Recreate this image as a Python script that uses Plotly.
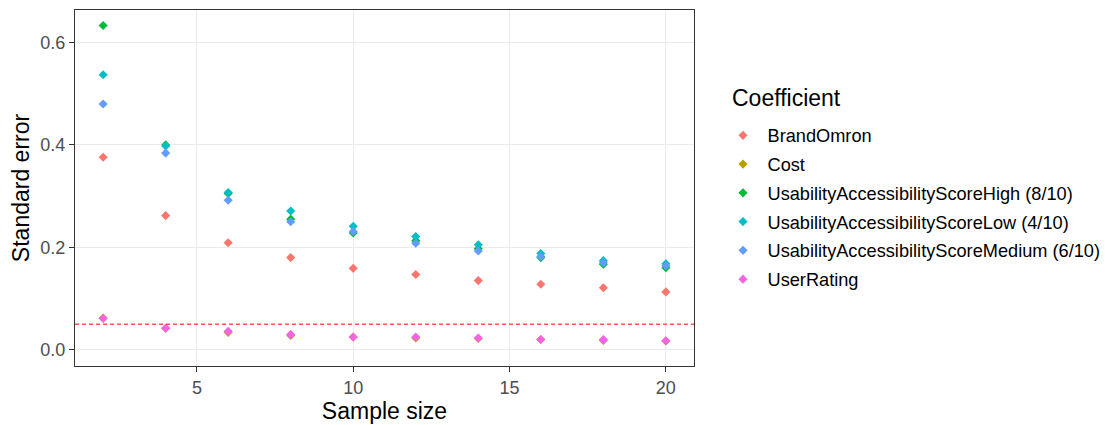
import plotly.graph_objects as go

sample_size = [2, 4, 6, 8, 10, 12, 14, 16, 18, 20]
coef_names = ["BrandOmron", "Cost", "UsabilityAccessibilityScoreHigh (8/10)",
              "UsabilityAccessibilityScoreLow (4/10)", "UsabilityAccessibilityScoreMedium (6/10)",
              "UserRating"]
se_brand = [0.376, 0.262, 0.209, 0.180, 0.159, 0.147, 0.135, 0.128, 0.121, 0.113]
se_cost = [0.062, 0.042, 0.034, 0.028, 0.025, 0.023, 0.022, 0.020, 0.018, 0.017]
se_high = [0.633, 0.400, 0.305, 0.255, 0.228, 0.213, 0.197, 0.180, 0.167, 0.160]
se_low = [0.537, 0.398, 0.307, 0.271, 0.241, 0.221, 0.205, 0.188, 0.174, 0.168]
se_medium = [0.480, 0.384, 0.292, 0.250, 0.231, 0.208, 0.193, 0.182, 0.170, 0.164]
se_user = [0.061, 0.042, 0.036, 0.030, 0.025, 0.025, 0.023, 0.020, 0.020, 0.0175]
colors = ["#F8766D", "#B79F00", "#00BA38", "#00BFC4", "#619CFF", "#F564E3"]
threshold = 0.05

series = [se_brand, se_cost, se_high, se_low, se_medium, se_user]
FONT = "Liberation Sans, Arial, sans-serif"

# figure is drawn inside the page body (8px default margin), so size it to fit the window
W, H = 1103, 417

fig = go.Figure()
for name, vals, col in zip(coef_names, series, colors):
    fig.add_trace(go.Scatter(
        x=sample_size, y=vals, mode="markers", name=name, legendgroup=name,
        marker=dict(symbol="diamond", size=7, color=col, line=dict(width=0)),
    ))

fig.add_hline(y=threshold, line=dict(color="#FF0000", width=1, dash="4px,3px"))

axis_common = dict(
    showgrid=True, gridcolor="#EBEBEB", gridwidth=1, zeroline=False,
    showline=True, linecolor="#333333", linewidth=1, mirror=True,
    ticks="outside", ticklen=5, tickcolor="#333333",
    tickfont=dict(family=FONT, size=18, color="#4D4D4D"),
    automargin=True,
)
fig.update_xaxes(range=[1.1, 20.9], tickvals=[5, 10, 15, 20],
                 title=dict(text="Sample size", font=dict(family=FONT, size=23, color="black"), standoff=4),
                 **axis_common)
fig.update_yaxes(range=[-0.0317, 0.6634], tickvals=[0.0, 0.2, 0.4, 0.6], tickformat=".1f",
                 title=dict(text="Standard error", font=dict(family=FONT, size=23, color="black"), standoff=6),
                 **axis_common)

fig.add_annotation(text="Coefficient", xref="paper", yref="paper",
                   x=(722 - 67) / (686 - 67), y=1 - (90 - 2) / (358 - 2),
                   xanchor="left", yanchor="middle", showarrow=False,
                   font=dict(family=FONT, size=23, color="black"))

fig.update_layout(
    width=W, height=H,
    margin=dict(l=67, r=W - 686, t=2, b=H - 358, autoexpand=False),
    plot_bgcolor="white", paper_bgcolor="white",
    font=dict(family=FONT),
    legend=dict(
        font=dict(family=FONT, size=18.2, color="black"),
        xref="container", yref="container", x=710.5 / W, y=1 - 109 / H,
        xanchor="left", yanchor="top", tracegroupgap=2.1, itemwidth=39,
        maxheight=400,
    ),
)

fig.write_html("out.html")
